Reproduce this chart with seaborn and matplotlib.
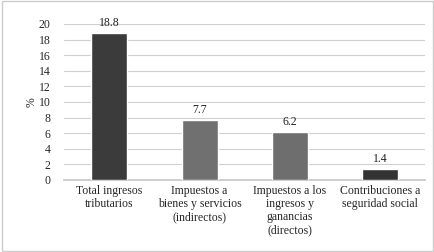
import matplotlib
matplotlib.use("Agg")
import matplotlib.pyplot as plt
import seaborn as sns
import pandas as pd

categorias = ["Total ingresos\ntributarios",
              "Impuestos a\nbienes y servicios\n(indirectos)",
              "Impuestos a los\ningresos y\nganancias\n(directos)",
              "Contribuciones a\nseguridad social"]
valores = [18.8, 7.7, 6.2, 1.4]
colores = ["#3b3b3b", "#707070", "#6e6e6e", "#333333"]

df = pd.DataFrame({"cat": categorias, "val": valores})

sns.set_theme(style="white")
plt.rcParams["font.family"] = ["Liberation Serif", "DejaVu Serif"]

fig = plt.figure(figsize=(4.35, 2.52), dpi=100)
ax = fig.add_axes([0.148, 0.286, 0.829, 0.619])
sns.barplot(data=df, x="cat", y="val", hue="cat", palette=colores, width=0.4,
            legend=False, ax=ax, zorder=3)

for i, v in enumerate(valores):
    ax.text(i, v + 0.5, f"{v:.1f}", ha="center", va="bottom", fontsize=8.5, color="#222222")

ax.set_ylim(0, 20)
ax.set_yticks(range(0, 21, 2))
ax.yaxis.grid(True, color="#d0d0d0", linewidth=0.8, zorder=0)
ax.set_xlabel("")
ax.set_ylabel("%", fontsize=8.5, labelpad=1)
ax.tick_params(axis="y", labelsize=8.5, length=0, pad=10)
ax.tick_params(axis="x", labelsize=8.5, length=0, pad=4)
for lbl in ax.get_xticklabels():
    lbl.set_linespacing(1.1)
for s in ["top", "right", "left"]:
    ax.spines[s].set_visible(False)
ax.spines["bottom"].set_color("#c8c8c8")

fig.patches.append(plt.Rectangle((0.005, 0.005), 0.99, 0.99, transform=fig.transFigure,
                                 fill=False, edgecolor="#cccccc", linewidth=1))

fig.savefig("out.png", dpi=100)
